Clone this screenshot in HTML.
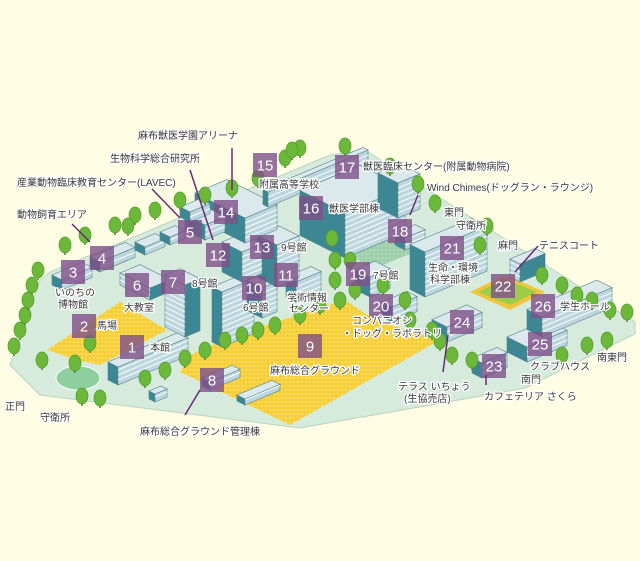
<!DOCTYPE html>
<html><head><meta charset="utf-8">
<style>
html,body{margin:0;padding:0;background:#fffde3;}
svg{display:block;}
.t{font-family:"Liberation Sans","Noto Sans CJK JP",sans-serif;font-size:10px;fill:#3a3a3a;stroke:#fff;stroke-width:2.5px;paint-order:stroke;}
.n{font-family:"Liberation Sans",sans-serif;font-size:15px;fill:#fff;text-anchor:middle;}
.ln{stroke:#6a2a78;stroke-width:1.5;fill:none;}
</style></head><body>
<svg id="s" width="640" height="561" viewBox="0 0 640 561" xmlns="http://www.w3.org/2000/svg">
<defs>
<pattern id="dots" width="4" height="4" patternUnits="userSpaceOnUse"><rect width="4" height="4" fill="#f6cf36"/><circle cx="2" cy="2" r="0.9" fill="#fbe890"/></pattern>
<pattern id="gd" width="4" height="4" patternUnits="userSpaceOnUse"><rect width="4" height="4" fill="#9fcfaa"/><circle cx="2" cy="2" r="0.8" fill="#c8e6cf"/></pattern>
</defs>
<rect width="640" height="561" fill="#fffde3"/>
<polygon points="10,365 40,280 50,272 330,155 365,150 635,322 635,334 525,388 470,398 300,428 40,395" fill="#d6ebdc" stroke="#b9d3c3"/>
<polygon points="190,355 235,335 345,300 375,320 440,340 290,425 180,372" fill="url(#dots)"/>
<polygon points="47,350 120,302 167,330 100,365 77,360" fill="url(#dots)"/>
<polygon points="340,245 395,225 420,250 370,270" fill="url(#gd)"/>
<ellipse cx="78" cy="378" rx="22" ry="12" fill="#8fcf9f" stroke="#fff"/>
<polygon points="470,292 505,275 545,292 510,310" fill="#f3c53a"/>
<polygon points="478,292 505,279 537,292 510,305" fill="#9ccc4a"/>
<g id="bld"></g>
<g id="trees"></g>
<g id="nums"></g>
<g>
<line class="ln" x1="232" y1="148" x2="232" y2="190"/>
<line class="ln" x1="190" y1="170" x2="213" y2="240"/>
<line class="ln" x1="152" y1="189" x2="180" y2="218"/>
<line class="ln" x1="72" y1="224" x2="90" y2="242"/>
<line class="ln" x1="418" y1="195" x2="410" y2="215"/>
<line class="ln" x1="538" y1="246" x2="515" y2="272"/>
<line class="ln" x1="448" y1="335" x2="443" y2="372"/>
<line class="ln" x1="486" y1="375" x2="486" y2="385"/>
<line class="ln" x1="200" y1="390" x2="185" y2="415"/>
</g>
<text class="t" x="138" y="139">麻布獣医学園アリーナ</text>
<text class="t" x="110" y="162">生物科学総合研究所</text>
<text class="t" x="17" y="186">産業動物臨床教育センター(LAVEC)</text>
<text class="t" x="17" y="218">動物飼育エリア</text>
<text class="t" x="55" y="296">いのちの</text>
<text class="t" x="58" y="308">博物館</text>
<text class="t" x="124" y="311">大教室</text>
<text class="t" x="97" y="329">馬場</text>
<text class="t" x="150" y="351">本館</text>
<text class="t" x="192" y="287">8号館</text>
<text class="t" x="243" y="311">6号館</text>
<text class="t" x="281" y="251">9号館</text>
<text class="t" x="287" y="301">学術情報</text>
<text class="t" x="289" y="312">センター</text>
<text class="t" x="259" y="188">附属高等学校</text>
<text class="t" x="329" y="212">獣医学部棟</text>
<text class="t" x="363" y="170">獣医臨床センター(附属動物病院)</text>
<text class="t" x="427" y="191">Wind Chimes(ドッグラン・ラウンジ)</text>
<text class="t" x="444" y="216">東門</text>
<text class="t" x="456" y="229">守衛所</text>
<text class="t" x="498" y="249">麻門</text>
<text class="t" x="539" y="249">テニスコート</text>
<text class="t" x="373" y="279">7号館</text>
<text class="t" x="428" y="271">生命・環境</text>
<text class="t" x="430" y="283">科学部棟</text>
<text class="t" x="560" y="310">学生ホール</text>
<text class="t" x="597" y="361">南東門</text>
<text class="t" x="530" y="370">クラブハウス</text>
<text class="t" x="521" y="383">南門</text>
<text class="t" x="484" y="400">カフェテリア さくら</text>
<text class="t" x="398" y="390">テラス いちょう</text>
<text class="t" x="404" y="402">(生協売店)</text>
<text class="t" x="352" y="324">コンパニオン</text>
<text class="t" x="342" y="337">・ドッグ・ラボラトリ</text>
<text class="t" x="270" y="374">麻布総合グラウンド</text>
<text class="t" x="140" y="435">麻布総合グラウンド管理棟</text>
<text class="t" x="5" y="410">正門</text>
<text class="t" x="40" y="421">守衛所</text>
</svg>
<script>
var NS="http://www.w3.org/2000/svg";
function el(p,tag,a){var e=document.createElementNS(NS,tag);for(var k in a)e.setAttribute(k,a[k]);p.appendChild(e);return e;}
var B=document.getElementById("bld");
function pts(a){return a.map(function(p){return p[0].toFixed(1)+","+p[1].toFixed(1)}).join(" ");}
function bld(x,y,L,R,h,dark){
 var P=[x,y],u=[-L,-L*0.5],v=[R,-R*0.42],T=[x,y-h];
 var lf=[P,[x+u[0],y+u[1]],[x+u[0],y+u[1]-h],T];
 var rf=[P,[x+v[0],y+v[1]],[x+v[0],y+v[1]-h],T];
 var rf2=[T,[T[0]+u[0],T[1]+u[1]],[T[0]+u[0]+v[0],T[1]+u[1]+v[1]],[T[0]+v[0],T[1]+v[1]]];
 el(B,"polygon",{points:pts(lf),fill:dark?"#3d8795":"#bcd6de",stroke:"#4f7f8a","stroke-width":0.6});
 el(B,"polygon",{points:pts(rf),fill:dark?"#bcd6de":"#3d8795",stroke:"#4f7f8a","stroke-width":0.6});
 el(B,"polygon",{points:pts(rf2),fill:"#dbe9ec",stroke:"#4f7f8a","stroke-width":0.6});
 for(var i=1;i<h/5;i++){var yy=i*5;
  var e=dark?v:u;
  el(B,"line",{x1:x,y1:y-yy,x2:x+e[0],y2:y+e[1]-yy,stroke:"#fff","stroke-width":1.2,opacity:0.85});}
}
[[118,385,10,70,18,1],[150,300,30,20,12,0],[62,290,10,30,10,1],[100,272,10,35,10,1],[185,337,20,15,52,0],[222,347,10,32,55,1],[262,318,15,15,30,1],[296,302,10,25,20,1],[277,287,20,22,42,1],[242,282,20,20,30,1],[245,243,50,32,25,1],[268,207,5,100,15,1],[345,258,45,60,45,1],[398,218,20,22,35,1],[405,250,10,20,12,1],[370,297,15,20,20,1],[392,322,10,25,15,1],[425,297,15,62,45,1],[447,342,15,35,15,1],[482,378,10,25,15,1],[527,362,20,40,15,1],[542,337,15,70,20,1],[205,240,20,20,15,1],[145,255,10,20,8,1],[170,245,10,15,8,1],[210,390,8,30,8,1],[245,405,8,35,6,1],[155,402,6,12,8,1],[520,282,10,25,18,0],[190,222,10,20,10,1]].forEach(function(b){bld.apply(null,b)});
var T=document.getElementById("trees");
[[20,332],[25,317],[28,302],[32,287],[14,348],[38,272],[65,247],[85,237],[115,227],[135,217],[155,212],[180,202],[205,197],[232,190],[258,180],[285,160],[300,150],[345,148],[390,168],[418,186],[435,205],[487,228],[542,277],[562,287],[577,297],[592,302],[610,312],[627,314],[42,362],[82,398],[100,400],[145,380],[165,372],[185,360],[205,352],[225,342],[242,337],[258,332],[275,327],[300,317],[320,307],[340,302],[355,292],[335,282],[383,287],[410,322],[432,332],[452,357],[472,362],[562,357],[587,347],[607,342],[75,365],[292,152],[128,228],[440,343],[405,302],[350,262],[335,262],[332,240],[480,247],[90,345]].forEach(function(p){
 el(T,"line",{x1:p[0],y1:p[1],x2:p[0],y2:p[1]+8,stroke:"#5c7f2e","stroke-width":1.5});
 el(T,"ellipse",{cx:p[0],cy:p[1]-2,rx:6,ry:8,fill:"#6cb83a",stroke:"#4f9a28","stroke-width":0.7});
});
var N=document.getElementById("nums");
[[1,132,347],[2,84,326],[3,73,272],[4,102,258],[5,190,232],[6,137,285],[7,173,282],[8,212,380],[9,310,346],[10,254,288],[11,286,275],[12,218,255],[13,262,247],[14,226,212],[15,265,165],[16,311,208],[17,347,167],[18,400,231],[19,358,274],[20,381,306],[21,452,248],[22,503,286],[23,494,366],[24,462,322],[25,540,344],[26,543,306]].forEach(function(n){
 el(N,"rect",{x:n[1]-12,y:n[2]-12,width:24,height:24,fill:"#7f4f88","fill-opacity":0.8});
 var t=el(N,"text",{x:n[1],y:n[2]+5.5,"class":"n"});t.textContent=n[0];
});
</script>
</body></html>
